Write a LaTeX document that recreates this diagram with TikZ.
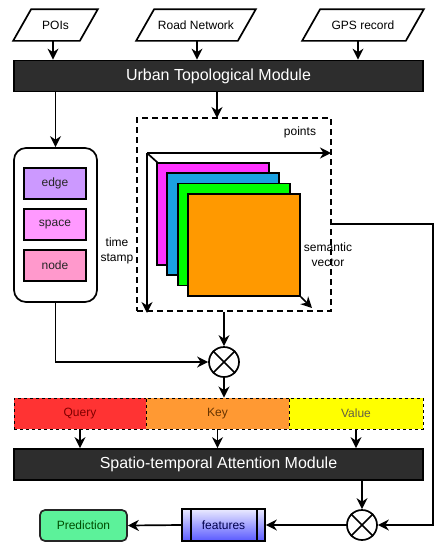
\documentclass[tikz,border=0pt]{standalone}
\usepackage{fontspec}
\setmainfont{Liberation Sans}
\usetikzlibrary{arrows.meta,calc}
\definecolor{barc}{HTML}{2D2D2D}
\definecolor{edgec}{HTML}{CC99FF}
\definecolor{spacec}{HTML}{FF99FF}
\definecolor{nodec}{HTML}{FF99CC}
\definecolor{magc}{HTML}{FF33FF}
\definecolor{bluec}{HTML}{1BA1E2}
\definecolor{greenc}{HTML}{00FF00}
\definecolor{orangec}{HTML}{FF9900}
\definecolor{queryc}{HTML}{FF3333}
\definecolor{keyc}{HTML}{FF9933}
\definecolor{valuec}{HTML}{FFFF00}
\definecolor{predc}{HTML}{5CF29A}
\begin{document}
\begin{tikzpicture}[x=1pt,y=-1pt,line width=1.7pt,
  arr/.style={-{Stealth[length=11pt,width=11pt,inset=3.5pt]}},
  bar/.style={draw=black,fill=barc,text=white,font=\fontsize{16}{18}\selectfont,minimum width=409pt,minimum height=31pt,inner sep=0pt},
  lbl/.style={font=\fontsize{12}{14}\selectfont,inner sep=0pt},
  para/.style={lbl,minimum height=30pt},
  inbox/.style={lbl,draw=black,text=black!85,minimum width=62pt,minimum height=31pt},
  layer/.style={draw=black,minimum width=112pt,minimum height=102pt,inner sep=0pt},
  qkv/.style={lbl,draw=black,line width=0.9pt,dashed,minimum height=31pt},
  mult/.style={circle,draw=black,fill=white,minimum size=30pt,inner sep=0pt},
  dbox/.style={draw=black,dash pattern=on 6pt off 4pt,minimum width=194pt,minimum height=193pt,inner sep=0pt}
]
\useasboundingbox (0,0) rectangle (440,550);

% inputs
\node[para,minimum width=83pt] (poi) at (55.5,25) {POIs};
\node[para,minimum width=118pt] (road) at (196,25) {Road Network};
\node[para,minimum width=120pt] (gps) at (363,25) {GPS record};
\foreach \n in {poi,road,gps}{
  \draw ($(\n.north west)+(18,0)$) -- (\n.north east) -- ($(\n.south east)+(-18,0)$) -- (\n.south west) -- cycle;
}

% urban bar
\node[bar] (urban) at (218.5,76) {Urban Topological Module};
\coordinate (poiB) at (53,40);
\coordinate (roadB) at (197,40);
\coordinate (gpsB) at (358,40);
\draw[arr] (poiB) -- (poiB |- urban.north);
\draw[arr] (roadB) -- (roadB |- urban.north);
\draw[arr] (gpsB) -- (gpsB |- urban.north);

% left rounded box
\node[draw=black,rounded corners=12pt,minimum width=83pt,minimum height=154pt,inner sep=0pt] (lbox) at (55.5,225) {};
\node[inbox,fill=edgec] (edge) at (55,183.5) {edge};
\node[inbox,fill=spacec] (space) at (55,224.5) {space};
\node[inbox,fill=nodec] (nodeb) at (55,265.5) {node};
\draw[arr] (urban.south -| lbox.north) -- (lbox.north);

% dashed box with 3D stack
\node[dbox] (dbox) at (234,214.5) {};
\coordinate (dtop) at (217,118);
\draw[arr] (urban.south -| dtop) -- (dtop);
\coordinate (o) at (147,153);
\coordinate (px) at (331,153);
\coordinate (ty) at (147,313);
\coordinate (dg) at (158,163);
\draw[arr] (o) -- (px);
\draw[arr] (o) -- (ty);
\draw (o) -- (dg);
\node[layer,fill=magc] (l1) at (213,214) {};
\node[layer,fill=bluec] (l2) at (223,224) {};
\node[layer,fill=greenc] (l3) at (234,234.5) {};
\node[layer,fill=orangec] (l4) at (244,245) {};
\coordinate (sv) at (312,308);
\draw[arr] (l4.south east) -- (sv);
\node[lbl] (points) at (300,132) {points};
\node[lbl,align=center] (time) at (117,251) {time\\[1pt]stamp};
\node[lbl,align=center] (sem) at (328,255) {semantic\\[1pt]vector};

% first multiplication
\node[mult] (m1) at (224,362) {};
\draw (m1.north west) -- (m1.south east) (m1.north east) -- (m1.south west);
\draw[arr] (dbox.south -| m1.north) -- (m1.north);
\draw[arr] (lbox.south) |- (m1.west);

% QKV
\node[qkv,fill=queryc,text=red!50!black,minimum width=132pt] (query) at (80,413.5) {Query};
\node[qkv,fill=keyc,text=orange!40!black,minimum width=143pt] (key) at (217.5,413.5) {Key};
\node[qkv,fill=valuec,text=black!70!yellow,minimum width=134pt] (value) at (356,413.5) {Value};
\draw[arr] (m1.south) -- (m1.south |- key.north);

% spatio bar
\node[bar] (spatio) at (218.5,464.5) {Spatio-temporal Attention Module};
\draw[arr] (query.south) -- (query.south |- spatio.north);
\draw[arr] (key.south) -- (key.south |- spatio.north);
\draw[arr] (value.south) -- (value.south |- spatio.north);

% second multiplication
\node[mult] (m2) at (362,525) {};
\draw (m2.north west) -- (m2.south east) (m2.north east) -- (m2.south west);
\draw[arr] (spatio.south -| m2.north) -- (m2.north);
\coordinate (rt) at (433,224);
\draw[arr] (dbox.east |- rt) -- (rt) |- (m2.east);

% features and prediction
\node[lbl,draw=black,top color=blue!8,bottom color=blue!65,text=blue!30!black,minimum width=83pt,minimum height=32pt] (feat) at (223.5,525) {features};
\draw ($(feat.north west)+(10,0)$) -- ($(feat.south west)+(10,0)$);
\draw ($(feat.north east)+(-9,0)$) -- ($(feat.south east)+(-9,0)$);
\node[lbl,draw=black!85,fill=predc,rounded corners=5pt,text=green!30!black,minimum width=87pt,minimum height=31pt] (pred) at (83.5,525.5) {Prediction};
\draw[arr] (m2.west) -- (feat.east);
\draw[arr] (feat.west) -- (pred.east);
\end{tikzpicture}
\end{document}
